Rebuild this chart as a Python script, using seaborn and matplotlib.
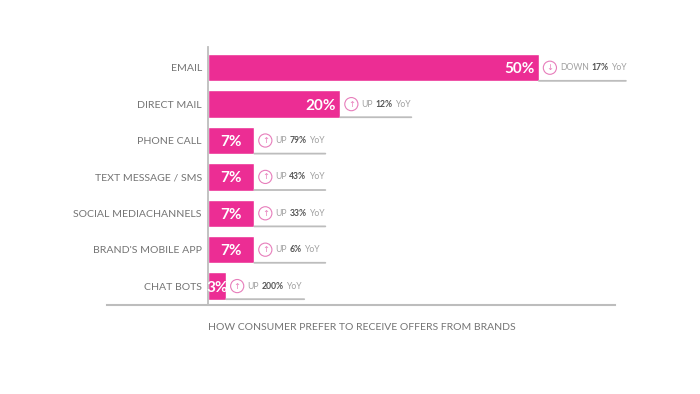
import matplotlib.pyplot as plt
import pandas as pd
import seaborn as sns

# Data
channels = ['EMAIL', 'DIRECT MAIL', 'PHONE CALL', 'TEXT MESSAGE / SMS',
            'SOCIAL MEDIACHANNELS', "BRAND'S MOBILE APP", 'CHAT BOTS']
bar_lengths = [50, 20, 7, 7, 7, 7, 2.75]
share_labels = ['50%', '20%', '7%', '7%', '7%', '7%', '3%']
directions = ['DOWN', 'UP', 'UP', 'UP', 'UP', 'UP', 'UP']
changes = [17, 12, 79, 43, 33, 6, 200]
title = 'HOW CONSUMER PREFER TO RECEIVE OFFERS FROM BRANDS'

# Styles
pink = '#EC2D94'
pink_soft = '#E77DBB'
grey_text = '#747474'
grey_light = '#A0A0A0'
grey_rule = '#BDBDBD'
px = 0.72  # one pixel in points at dpi 100

sns.set_theme(style='white')
plt.rcParams['font.family'] = ['Lato', 'DejaVu Sans']

df = pd.DataFrame({'channel': channels, 'share': bar_lengths})

fig = plt.figure(figsize=(7.0, 3.94), dpi=100)
ax = fig.add_axes([208 / 700, 1 - 305 / 394, 407 / 700, 258 / 394])

sns.barplot(data=df, x='share', y='channel', color=pink, saturation=1,
            width=0.75, ax=ax)

ax.set_xlim(0, 61.5)
ax.set_ylim(6.52, -0.57)
ax.set_xticks([])
ax.set_ylabel('')
ax.set_xlabel(title, loc='left', fontsize=7.5, color=grey_text, labelpad=13)
ax.tick_params(axis='y', length=0, pad=4.5, labelsize=7.55, labelcolor=grey_text)

sns.despine(ax=ax, top=True, right=True)
ax.spines['left'].set_color(grey_rule)
ax.spines['left'].set_linewidth(1.3)
ax.spines['bottom'].set_color(grey_rule)
ax.spines['bottom'].set_linewidth(1.5)
ax.spines['bottom'].set_bounds(-15.3, 61.5)

for i, (share, label, direction, change) in enumerate(zip(bar_lengths, share_labels, directions, changes)):
    # share inside the bar: right aligned on long bars, centred on short ones
    if share > 10:
        ax.annotate(label, xy=(share, i), xytext=(-4 * px, 0),
                    textcoords='offset points', ha='right', va='center_baseline',
                    color='white', fontsize=11, fontweight='bold')
    else:
        ax.annotate(label, xy=(share / 2, i), ha='center', va='center_baseline',
                    color='white', fontsize=11, fontweight='bold')

    # grey rule under the change text
    rule_px = 87 if direction == 'DOWN' else 78 if change >= 100 else 71
    ax.annotate('', xy=(share, i + 0.36), xytext=(rule_px * px, 0),
                textcoords='offset points',
                arrowprops=dict(arrowstyle='-', color=grey_rule, lw=1.3,
                                shrinkA=0, shrinkB=0), annotation_clip=False)

    # circled arrow + change text
    ax.annotate('\u2193' if direction == 'DOWN' else '\u2191', xy=(share, i),
                xytext=(11 * px, 0), textcoords='offset points',
                ha='center', va='center', fontsize=6, color=pink_soft,
                family='DejaVu Sans', annotation_clip=False,
                bbox=dict(boxstyle='circle,pad=0.25', fc='none', ec=pink_soft, lw=0.8))
    part = ax.annotate(direction, xy=(share, i), xytext=(21 * px, 0),
                       textcoords='offset points', ha='left', va='center',
                       fontsize=6.2, color=grey_light, annotation_clip=False)
    part = ax.annotate(f'{change}%', xy=(1, 0.5), xycoords=part, xytext=(1.8, 0),
                       textcoords='offset points', ha='left', va='center',
                       fontsize=6.2, color='#555555', fontweight='bold',
                       annotation_clip=False)
    ax.annotate('YoY', xy=(1, 0.5), xycoords=part, xytext=(1.8, 0),
                textcoords='offset points', ha='left', va='center',
                fontsize=6.2, color=grey_light, annotation_clip=False)

fig.savefig('out.png', dpi=100)
